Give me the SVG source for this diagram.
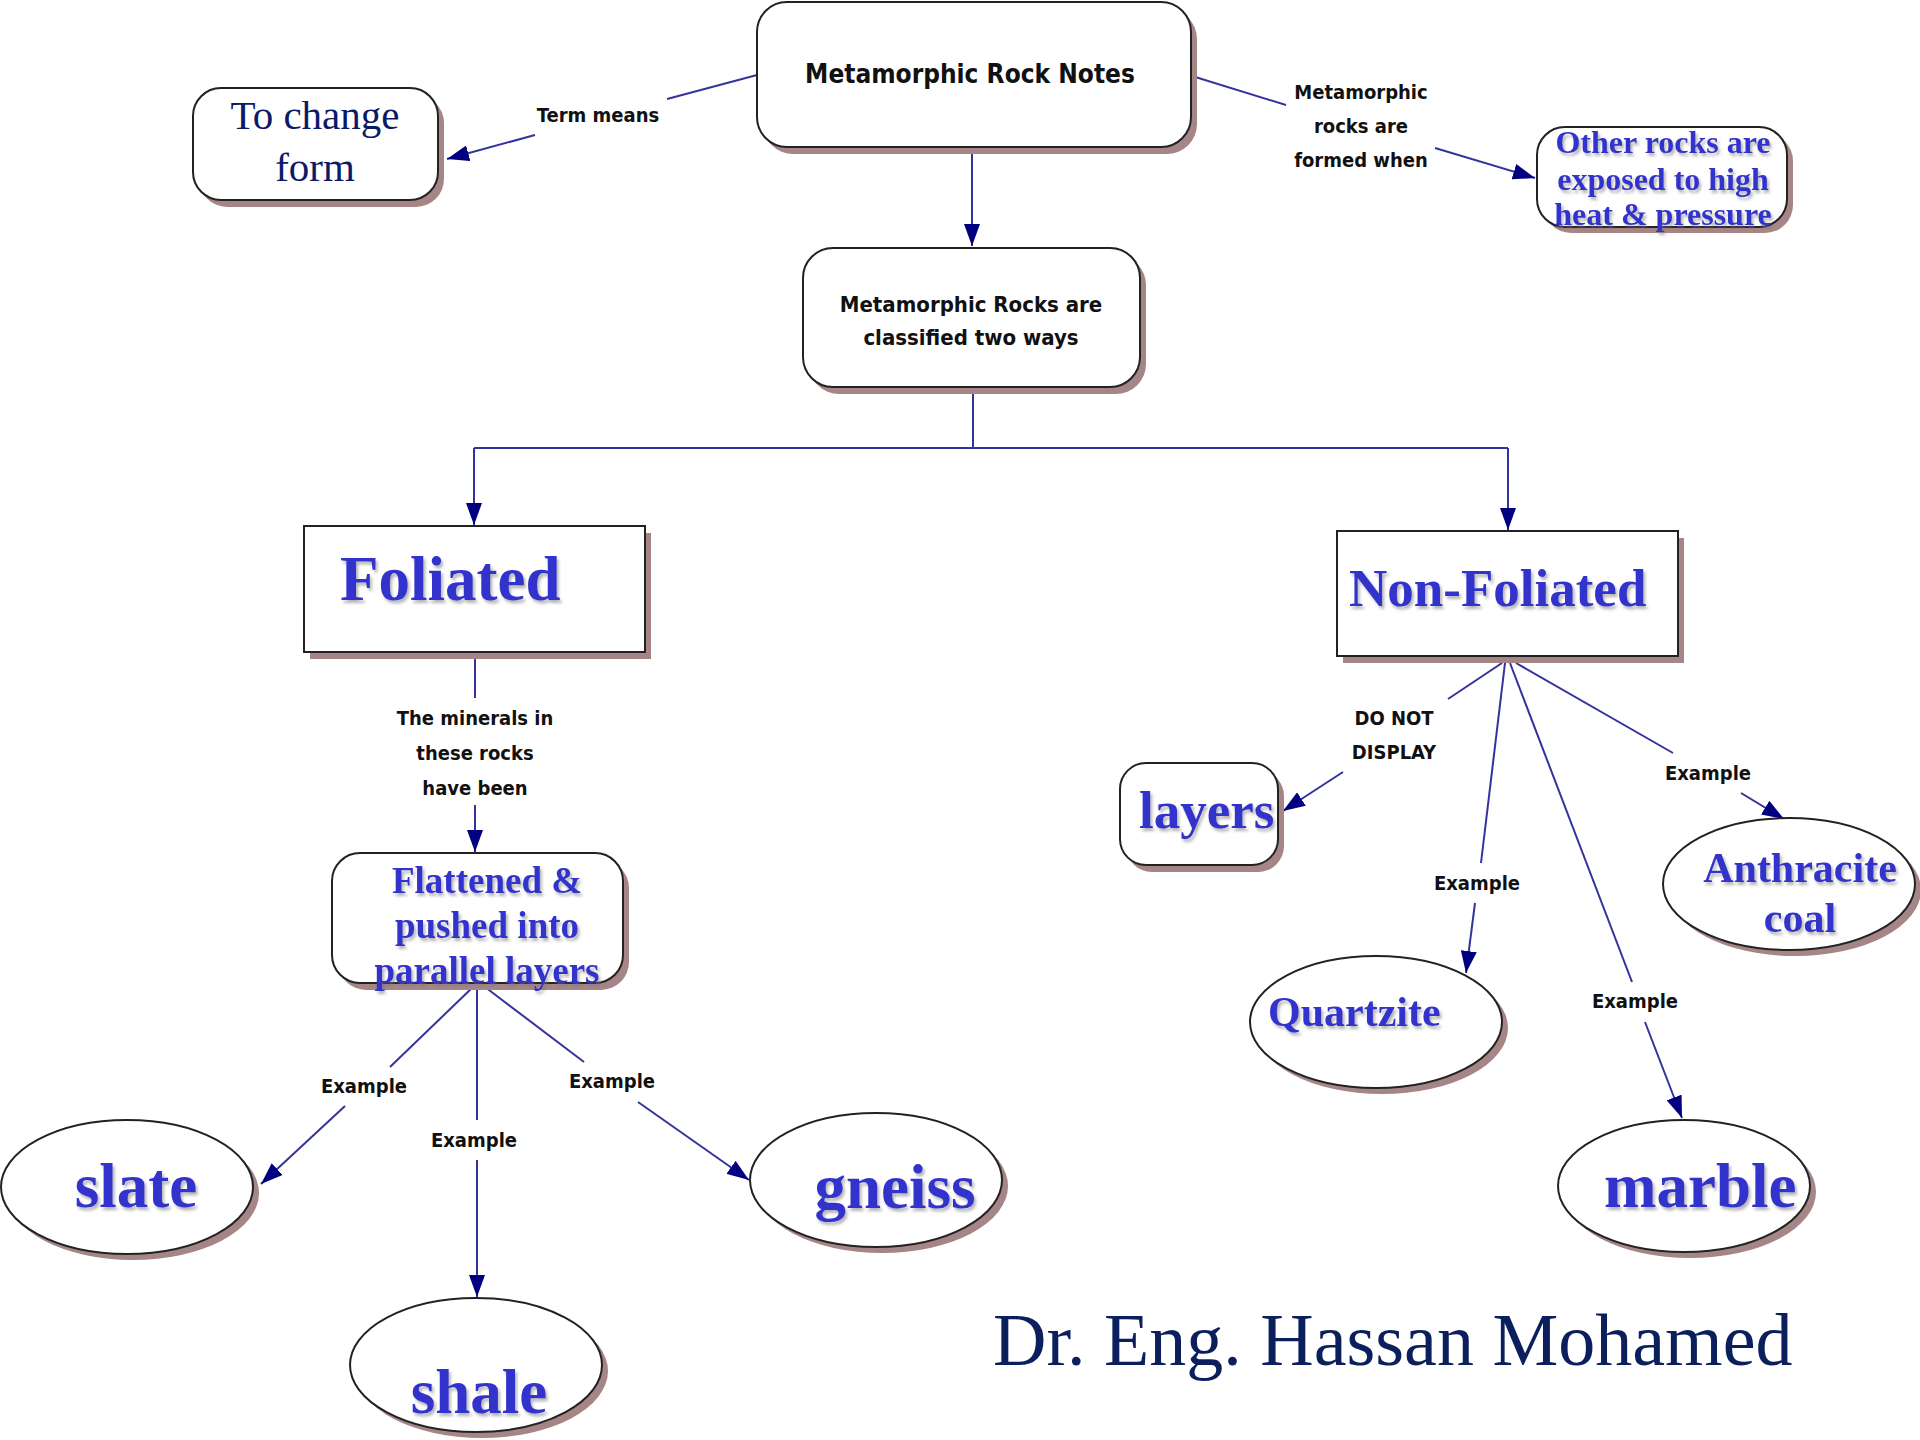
<svg xmlns="http://www.w3.org/2000/svg" width="1920" height="1440" viewBox="0 0 1920 1440">
<defs>
<marker id="arr" viewBox="0 0 22 16" refX="22" refY="8" markerWidth="22" markerHeight="16" markerUnits="userSpaceOnUse" orient="auto">
<path d="M0,0 L22,8 L0,16 z" fill="#000080"/>
</marker>
<filter id="ts" x="-10%" y="-10%" width="120%" height="130%">
<feDropShadow dx="2" dy="3" stdDeviation="1.5" flood-color="#777" flood-opacity="0.55"/>
</filter>
</defs>
<style>
.box{fill:#fff;stroke:#222;stroke-width:2}
.sh{fill:#a58585}
.conn{stroke:#33339a;stroke-width:2;fill:none}
.arw{marker-end:url(#arr)}
.lbl{font-family:"DejaVu Sans Condensed","DejaVu Sans",sans-serif;font-stretch:condensed;font-weight:bold;font-size:20px;text-anchor:middle;fill:#111}
.hd{font-family:"DejaVu Sans Condensed","DejaVu Sans",sans-serif;font-stretch:condensed;font-weight:bold;text-anchor:middle;fill:#111}
.blue{font-family:"Liberation Serif","Times New Roman",serif;font-weight:bold;fill:#3333cc;filter:url(#ts)}
.navy{font-family:"Liberation Serif","Times New Roman",serif;fill:#0a1a66}
</style>
<rect width="1920" height="1440" fill="#fff"/>

<g id="connectors">
<line class="conn" x1="757" y1="75" x2="667" y2="99"/>
<line class="conn arw" x1="535" y1="135" x2="447" y2="159"/>
<text class="lbl" x="598" y="122">Term means</text>

<line class="conn" x1="1192" y1="76" x2="1286" y2="105"/>
<line class="conn arw" x1="1435" y1="148" x2="1535" y2="178"/>
<text class="lbl" x="1361" y="99">Metamorphic</text>
<text class="lbl" x="1361" y="133">rocks are</text>
<text class="lbl" x="1361" y="167">formed when</text>

<line class="conn arw" x1="972" y1="149" x2="972" y2="246"/>

<path class="conn" d="M973,389 V448 M474,448 H1508"/>
<line class="conn arw" x1="474" y1="448" x2="474" y2="525"/>
<line class="conn arw" x1="1508" y1="448" x2="1508" y2="530"/>

<line class="conn" x1="475" y1="654" x2="475" y2="698"/>
<text class="lbl" x="475" y="725">The minerals in</text>
<text class="lbl" x="475" y="760">these rocks</text>
<text class="lbl" x="475" y="795">have been</text>
<line class="conn arw" x1="475" y1="805" x2="475" y2="852"/>

<line class="conn" x1="473" y1="987" x2="390" y2="1067"/>
<text class="lbl" x="364" y="1093">Example</text>
<line class="conn arw" x1="345" y1="1106" x2="261" y2="1184"/>

<line class="conn" x1="477" y1="987" x2="477" y2="1120"/>
<text class="lbl" x="474" y="1147">Example</text>
<line class="conn arw" x1="477" y1="1160" x2="477" y2="1297"/>

<line class="conn" x1="485" y1="987" x2="584" y2="1062"/>
<text class="lbl" x="612" y="1088">Example</text>
<line class="conn arw" x1="638" y1="1102" x2="749" y2="1180"/>

<line class="conn" x1="1502" y1="663" x2="1448" y2="699"/>
<text class="lbl" x="1394" y="725">DO NOT</text>
<text class="lbl" x="1394" y="759">DISPLAY</text>
<line class="conn arw" x1="1343" y1="772" x2="1283" y2="811"/>

<line class="conn" x1="1505" y1="663" x2="1481" y2="863"/>
<text class="lbl" x="1477" y="890">Example</text>
<line class="conn arw" x1="1475" y1="903" x2="1466" y2="973"/>

<line class="conn" x1="1510" y1="663" x2="1632" y2="982"/>
<text class="lbl" x="1635" y="1008">Example</text>
<line class="conn arw" x1="1645" y1="1022" x2="1682" y2="1118"/>

<line class="conn" x1="1516" y1="663" x2="1673" y2="753"/>
<text class="lbl" x="1708" y="780">Example</text>
<line class="conn arw" x1="1741" y1="793" x2="1784" y2="819"/>
</g>

<g id="n-top">
<rect class="sh" x="763" y="9" width="434" height="145" rx="30"/>
<rect class="box" x="757" y="2" width="434" height="145" rx="30"/>
<text class="hd" x="970" y="83" font-size="26">Metamorphic Rock Notes</text>
</g>

<g id="n-change">
<rect class="sh" x="199" y="95" width="245" height="112" rx="28"/>
<rect class="box" x="193" y="88" width="245" height="112" rx="28"/>
<text class="navy" x="315" y="129" font-size="41" text-anchor="middle">To change</text>
<text class="navy" x="315" y="181" font-size="41" text-anchor="middle">form</text>
</g>

<g id="n-other">
<rect class="sh" x="1543" y="133" width="250" height="100" rx="28"/>
<rect class="box" x="1537" y="127" width="250" height="100" rx="28"/>
<text class="blue" x="1663" y="153" font-size="32" text-anchor="middle">Other rocks are</text>
<text class="blue" x="1663" y="190" font-size="32" text-anchor="middle">exposed to high</text>
<text class="blue" x="1663" y="225" font-size="32" text-anchor="middle">heat &amp; pressure</text>
</g>

<g id="n-classified">
<rect class="sh" x="809" y="255" width="337" height="139" rx="30"/>
<rect class="box" x="803" y="248" width="337" height="139" rx="30"/>
<text class="hd" x="971" y="312" font-size="22">Metamorphic Rocks are</text>
<text class="hd" x="971" y="345" font-size="22">classified two ways</text>
</g>

<g id="n-foliated">
<rect class="sh" x="310" y="533" width="341" height="126"/>
<rect class="box" x="304" y="526" width="341" height="126"/>
<text class="blue" x="340" y="600" font-size="63">Foliated</text>
</g>

<g id="n-nonfoliated">
<rect class="sh" x="1343" y="538" width="341" height="125"/>
<rect class="box" x="1337" y="531" width="341" height="125"/>
<text class="blue" x="1349" y="606" font-size="53">Non-Foliated</text>
</g>

<g id="n-flattened">
<rect class="sh" x="338" y="860" width="291" height="130" rx="28"/>
<rect class="box" x="332" y="853" width="291" height="130" rx="28"/>
<text class="blue" x="487" y="893" font-size="37" text-anchor="middle">Flattened &amp;</text>
<text class="blue" x="487" y="938" font-size="37" text-anchor="middle">pushed into</text>
<text class="blue" x="487" y="983" font-size="37" text-anchor="middle">parallel layers</text>
</g>

<g id="n-layers">
<rect class="sh" x="1126" y="770" width="158" height="102" rx="26"/>
<rect class="box" x="1120" y="763" width="158" height="102" rx="26"/>
<text class="blue" x="1139" y="828" font-size="53">layers</text>
</g>

<g id="n-slate">
<ellipse class="sh" cx="133" cy="1193" rx="126" ry="67"/>
<ellipse class="box" cx="127" cy="1187" rx="126" ry="67"/>
<text class="blue" x="136" y="1207" font-size="63" text-anchor="middle">slate</text>
</g>

<g id="n-shale">
<ellipse class="sh" cx="482" cy="1371" rx="126" ry="67"/>
<ellipse class="box" cx="476" cy="1365" rx="126" ry="67"/>
<text class="blue" x="479" y="1413" font-size="63" text-anchor="middle">shale</text>
</g>

<g id="n-gneiss">
<ellipse class="sh" cx="882" cy="1186" rx="126" ry="67"/>
<ellipse class="box" cx="876" cy="1180" rx="126" ry="67"/>
<text class="blue" x="895" y="1208" font-size="63" text-anchor="middle">gneiss</text>
</g>

<g id="n-quartzite">
<ellipse class="sh" cx="1382" cy="1028" rx="126" ry="66"/>
<ellipse class="box" cx="1376" cy="1022" rx="126" ry="66"/>
<text class="blue" x="1268" y="1026" font-size="42">Quartzite</text>
</g>

<g id="n-anthracite">
<ellipse class="sh" cx="1795" cy="890" rx="126" ry="66"/>
<ellipse class="box" cx="1789" cy="884" rx="126" ry="66"/>
<text class="blue" x="1800" y="882" font-size="42" text-anchor="middle">Anthracite</text>
<text class="blue" x="1800" y="932" font-size="42" text-anchor="middle">coal</text>
</g>

<g id="n-marble">
<ellipse class="sh" cx="1690" cy="1192" rx="126" ry="66"/>
<ellipse class="box" cx="1684" cy="1186" rx="126" ry="66"/>
<text class="blue" x="1604" y="1207" font-size="63">marble</text>
</g>

<text x="993" y="1365" font-family="Liberation Serif, 'Times New Roman', serif" font-size="74" fill="#0a1f5c">Dr. Eng. Hassan Mohamed</text>
</svg>
